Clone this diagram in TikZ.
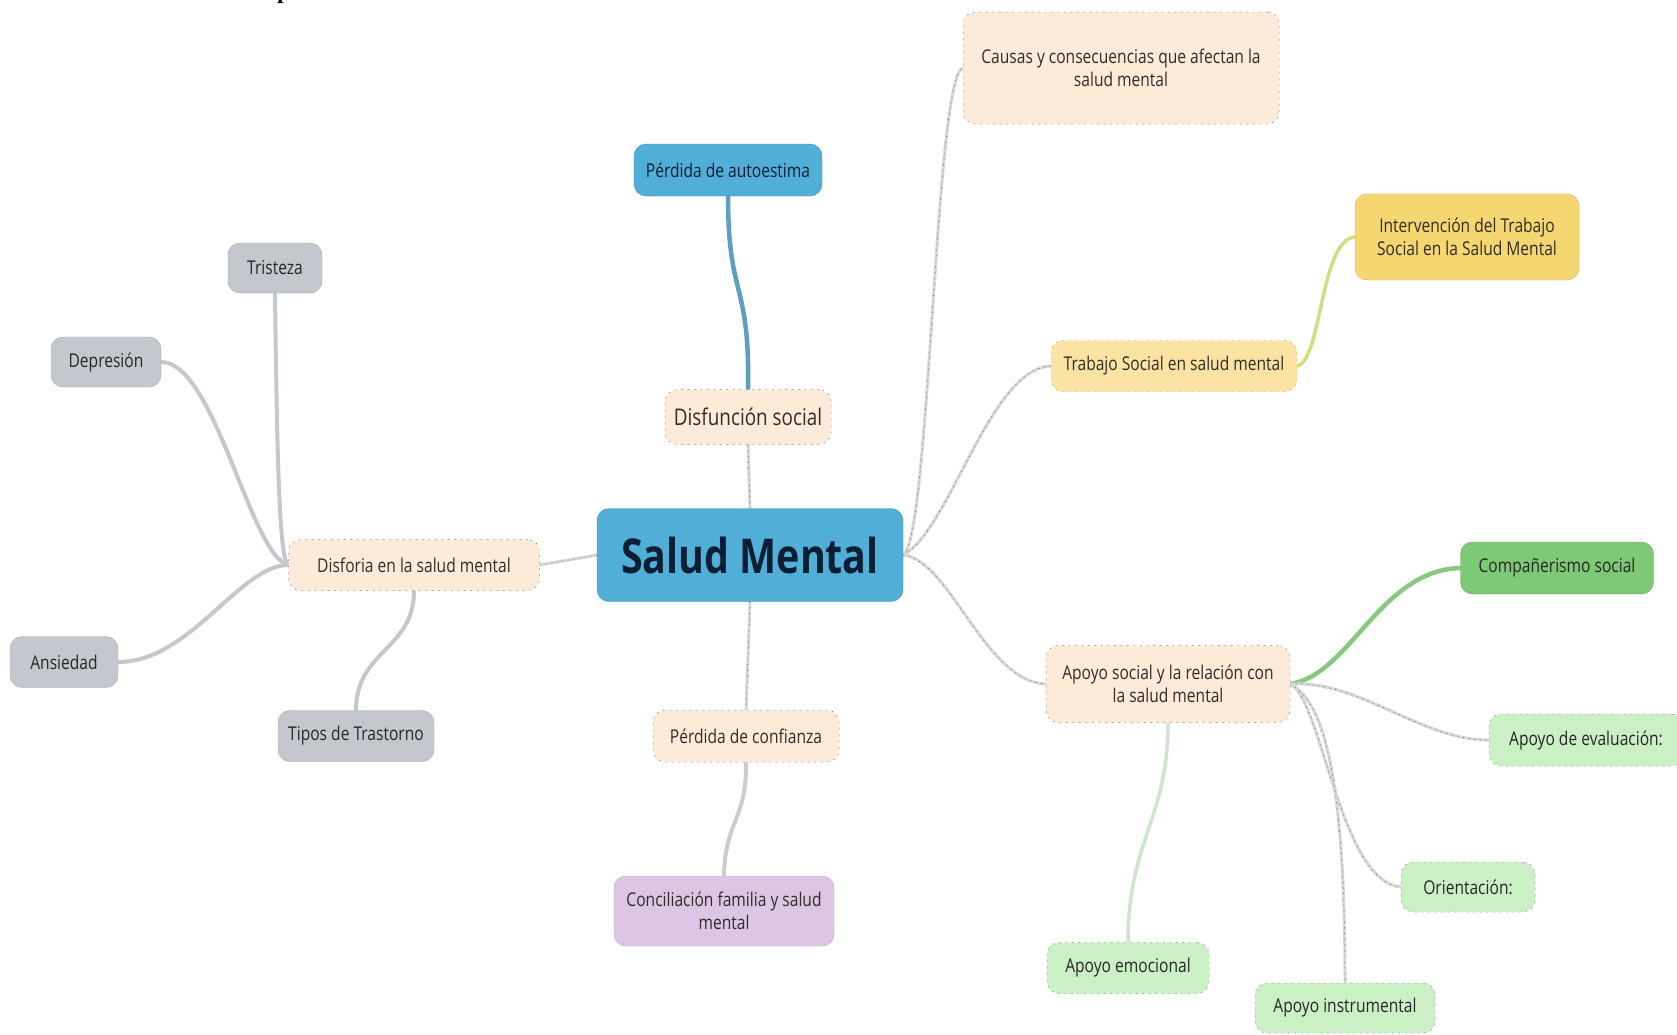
\documentclass[tikz,border=0pt]{standalone}
\usepackage{fontspec}
\setmainfont{Open Sans}[FakeStretch=0.82]
\newfontfamily\headserif{Liberation Serif}

\definecolor{mainblue}{RGB}{80,174,215}
\definecolor{navy}{RGB}{12,30,52}
\definecolor{peach}{RGB}{253,235,217}
\definecolor{greybox}{RGB}{196,199,205}
\definecolor{gold}{RGB}{245,214,112}
\definecolor{paleyellow}{RGB}{251,227,164}
\definecolor{leafgreen}{RGB}{126,201,117}
\definecolor{palegreen}{RGB}{203,240,198}
\definecolor{lavender}{RGB}{220,198,227}
\definecolor{txtdark}{RGB}{48,44,40}
\definecolor{greyline}{RGB}{196,199,204}
\definecolor{blueline}{RGB}{92,160,190}
\definecolor{goldline}{RGB}{213,219,130}
\definecolor{greenline}{RGB}{137,200,128}
\definecolor{palegreenline}{RGB}{208,228,205}

\pgfdeclarelayer{paper}
\pgfdeclarelayer{links}
\pgfsetlayers{paper,links,main}

\begin{document}
\begin{tikzpicture}[x=1pt,y=-1pt,
  box/.style={rounded corners=12pt, align=center, inner sep=3pt,
    font=\fontsize{19}{23.5}\selectfont, text=txtdark},
  peachbox/.style={box, fill=peach, draw=black!55, line width=0.5pt,
    dash pattern=on 1.5pt off 5pt},
  greybox/.style={box, fill=greybox, draw=greybox!85!black, line width=0.4pt, text=black!85},
  bluebox/.style={box, fill=mainblue, draw=mainblue!85!black, line width=0.4pt, text=navy},
  goldbox/.style={box, fill=gold, draw=gold!85!black, line width=0.4pt},
  yellowbox/.style={box, fill=paleyellow, draw=black!45, line width=0.4pt,
    dash pattern=on 1.5pt off 5pt},
  greenbox/.style={box, fill=leafgreen, draw=leafgreen!85!black, line width=0.4pt, text=black!85},
  palebox/.style={box, fill=palegreen, draw=black!50, line width=0.5pt,
    dash pattern=on 1.5pt off 5pt, text=black!85},
  lavbox/.style={box, fill=lavender, draw=lavender!85!black, line width=0.4pt},
  softlink/.style={draw=black!16, line width=3pt, line cap=round,
    postaction={draw=black!55, line width=0.7pt, dash pattern=on 0.7pt off 5pt}},
  greylink/.style={draw=greyline, line width=4pt, line cap=round},
  bluelink/.style={draw=blueline, line width=4.5pt, line cap=round},
  goldlink/.style={draw=goldline, line width=3.5pt, line cap=round},
  greenlink/.style={draw=greenline, line width=4.5pt, line cap=round},
  palelink/.style={draw=palegreenline, line width=3.5pt, line cap=round},
  lavlink/.style={draw=black!20, line width=4pt, line cap=round}
]
\begin{pgfonlayer}{paper}
  \fill[white] (0,0) rectangle (1677,1034);
\end{pgfonlayer}
\useasboundingbox (0,0) rectangle (1677,1034);

% heading line above the map (only its descender falls inside the page)
\node[anchor=base west, inner sep=0pt,
  font=\headserif\bfseries\fontsize{24}{24}\selectfont] (headp) at (277,-1.5) {p};

% central topic
\node[bluebox, minimum width=306pt, minimum height=93pt,
  font=\bfseries\fontsize{48}{50}\selectfont] (main) at (750,555) {Salud Mental};

% upper and lower branch
\node[bluebox, minimum width=188pt, minimum height=52pt] (auto) at (728,170) {Pérdida de autoestima};
\node[peachbox, minimum width=166pt, minimum height=55pt,
  font=\fontsize{23}{27}\selectfont] (dsoc) at (748,417) {Disfunción social};
\node[peachbox, minimum width=186pt, minimum height=52pt] (pconf) at (746,736) {Pérdida de confianza};
\node[lavbox, minimum width=220pt, minimum height=70pt] (conc) at (724,911) {Conciliación familia y salud\\mental};

% left branch
\node[peachbox, minimum width=251pt, minimum height=51pt] (disf) at (414,565) {Disforia en la salud mental};
\node[greybox, minimum width=94pt, minimum height=50pt] (tris) at (275,268) {Tristeza};
\node[greybox, minimum width=110pt, minimum height=50pt] (depr) at (106,362) {Depresión};
\node[greybox, minimum width=108pt, minimum height=51pt] (ansi) at (64,662) {Ansiedad};
\node[greybox, minimum width=156pt, minimum height=51pt] (tipos) at (356,736) {Tipos de Trastorno};

% right branches
\node[peachbox, minimum width=316pt, minimum height=112pt] (causas) at (1121,68) {Causas y consecuencias que afectan la\\salud mental};
\node[yellowbox, minimum width=246pt, minimum height=51pt] (tsoc) at (1174,366) {Trabajo Social en salud mental};
\node[goldbox, minimum width=224pt, minimum height=86pt] (inter) at (1467,237) {Intervención del Trabajo\\Social en la Salud Mental};
\node[peachbox, minimum width=244pt, minimum height=77pt] (aso) at (1168,684) {Apoyo social y la relación con\\la salud mental};
\node[greenbox, minimum width=193pt, minimum height=52pt] (comp) at (1557,568) {Compañerismo social};
\node[palebox, minimum width=194pt, minimum height=52pt] (aeval) at (1586,740) {Apoyo de evaluación:};
\node[palebox, minimum width=134pt, minimum height=50pt] (orient) at (1468,887) {Orientación:};
\node[palebox, minimum width=162pt, minimum height=51pt] (aemo) at (1128,968) {Apoyo emocional};
\node[palebox, minimum width=180pt, minimum height=50pt] (ainst) at (1345,1008) {Apoyo instrumental};

\begin{pgfonlayer}{links}
  % centre to first-level topics
  \draw[softlink] (main.west) -- (disf.east);
  \draw[softlink] (main.north) -- (dsoc.south);
  \draw[softlink] (main.south) -- (pconf.north);
  \draw[softlink] (main.east) .. controls (930,540) and (935,75) .. (causas.west);
  \draw[softlink] (main.east) .. controls (950,530) and (990,368) .. (tsoc.west);
  \draw[softlink] (main.east) .. controls (950,560) and (985,682) .. (aso.west);

  % vertical branch
  \draw[bluelink] (auto.south) .. controls (728,300) and (750,280) .. (dsoc.north);
  \draw[lavlink] (pconf.south) .. controls (747,820) and (725,820) .. (conc.north);

  % left branch
  \draw[greylink] (disf.west) .. controls (279,560) and (277,450) .. (tris.south);
  \draw[greylink] (disf.west) .. controls (250,555) and (215,362) .. (depr.east);
  \draw[greylink] (disf.west) .. controls (240,565) and (190,662) .. (ansi.east);
  \draw[greylink] (disf.south) .. controls (414,650) and (356,650) .. (tipos.north);

  % social work branch
  \draw[goldlink] (tsoc.east) .. controls (1322,360) and (1320,240) .. (inter.west);

  % social support branch
  \draw[greenlink] (aso.east) .. controls (1350,675) and (1380,570) .. (comp.west);
  \draw[softlink] (aso.east) .. controls (1360,680) and (1420,740) .. (aeval.west);
  \draw[softlink] (aso.east) .. controls (1322,700) and (1340,882) .. (orient.west);
  \draw[softlink] (aso.east) .. controls (1320,700) and (1345,760) .. (ainst.north);
  \draw[palelink] (aso.south) .. controls (1168,820) and (1128,840) .. (aemo.north);
\end{pgfonlayer}
\end{tikzpicture}
\end{document}
